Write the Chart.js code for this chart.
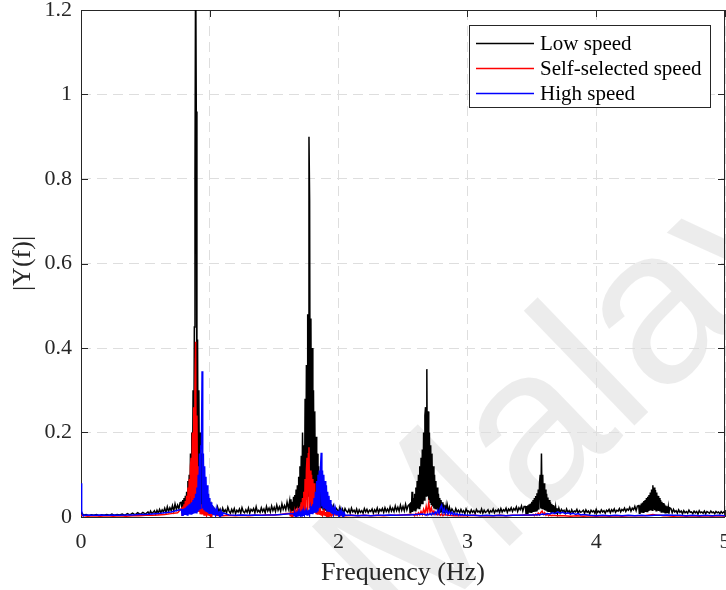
<!DOCTYPE html>
<html><head><meta charset="utf-8">
<script src="https://cdn.jsdelivr.net/npm/chart.js@4.4.1/dist/chart.umd.min.js"></script>
<style>html,body{margin:0;padding:0;background:#fff;}canvas{display:block;}</style>
</head><body>
<canvas id="c" width="726" height="590"></canvas>
<script>
// ---------- DATA ----------
const seriesLabels = ['Low speed', 'Self-selected speed', 'High speed'];
const seriesColors = ['#000000', '#ff0000', '#0000ff'];
const xTickValues = [0, 1, 2, 3, 4, 5];
const xTickLabels = ['0', '1', '2', '3', '4', '5'];
const yTickValues = [0, 0.2, 0.4, 0.6, 0.8, 1, 1.2];
const yTickLabels = ['0', '0.2', '0.4', '0.6', '0.8', '1', '1.2'];
const watermarkText = 'Malaya';

// Low speed |Y(f)| — each array is a run of FFT bins
const low_000_050 = [0.012,0.004,0.006,0.003,0.005,0.004,0.006,0.003,0.005,0.004,
 0.006,0.004,0.007,0.004,0.006,0.005,0.007,0.004,0.008,0.005,0.009,0.005,0.010,0.006,0.011,0.007];
const low_052_077 = [0.012,0.006,0.014,0.008,0.011,0.015,0.007,0.016,0.009,0.018,
 0.010,0.017,0.012,0.021,0.011,0.024,0.013,0.022,0.015,0.027,0.014,0.031,0.018,0.028,0.020,0.034];
const low_078_100 = [0.035,0.010,0.040,0.012,0.045,0.015,0.050,0.012,0.060,0.018,
 0.085,0.020,0.100,0.025,0.150,0.030,0.200,0.040,0.300,0.050,
 0.450,0.810,1.350,0.960,0.040,0.420,0.030,0.300,0.030,0.200,
 0.025,0.150,0.020,0.100,0.020,0.075,0.015,0.060,0.015,0.050,
 0.012,0.040,0.012,0.035,0.010];
const low_101_161 = [0.028,0.011,0.022,0.016,0.009,0.024,0.013,0.019,0.008,0.021,
 0.012,0.017,0.010,0.023,0.014,0.009,0.018,0.011,0.020,0.008,
 0.016,0.012,0.019,0.009,0.022,0.013,0.010,0.017,0.011,0.021,
 0.009,0.018,0.014,0.020,0.010,0.024,0.012,0.016,0.011,0.022,
 0.013,0.019,0.010,0.025,0.014,0.021,0.012,0.026,0.015,0.023,
 0.013,0.028,0.016,0.024,0.014,0.031,0.018,0.027,0.017,0.035,0.020];
const low_162_195 = [0.038,0.012,0.042,0.015,0.036,0.014,0.048,0.016,0.052,0.018,
 0.065,0.020,0.075,0.022,0.095,0.025,0.120,0.030,0.145,0.030,
 0.200,0.035,0.170,0.040,0.280,0.040,0.360,0.050,0.480,0.050,
 0.900,0.750,0.050,0.470,0.040,0.400,0.040,0.300,0.035,0.250,
 0.030,0.190,0.030,0.150,0.025,0.120,0.025,0.100,0.020,0.085,
 0.020,0.070,0.018,0.060,0.015,0.050,0.015,0.045,0.012,0.040,
 0.012,0.035,0.012,0.030,0.010,0.028,0.012];
const low_196_254 = [0.026,0.013,0.021,0.017,0.010,0.023,0.012,0.019,0.009,0.020,
 0.014,0.011,0.018,0.009,0.021,0.012,0.016,0.010,0.019,0.008,
 0.017,0.011,0.015,0.009,0.020,0.012,0.018,0.010,0.016,0.013,
 0.019,0.009,0.017,0.012,0.021,0.010,0.018,0.014,0.020,0.011,
 0.022,0.013,0.019,0.012,0.024,0.014,0.021,0.013,0.026,0.015,
 0.023,0.014,0.028,0.016,0.025,0.015,0.030,0.017,0.027];
const low_255_285 = [0.030,0.010,0.035,0.012,0.060,0.012,0.045,0.015,0.055,0.015,
 0.070,0.018,0.085,0.020,0.100,0.020,0.120,0.025,0.140,0.030,
 0.160,0.030,0.200,0.040,0.240,0.260,0.050,0.350,0.050,0.250,
 0.040,0.200,0.035,0.170,0.030,0.150,0.025,0.120,0.020,0.100,
 0.020,0.085,0.018,0.070,0.015,0.055,0.015,0.045,0.012,0.040,
 0.012,0.035,0.010,0.030,0.010,0.028,0.010,0.025,0.010,0.024,0.010];
const low_286_344 = [0.023,0.011,0.019,0.014,0.009,0.020,0.012,0.016,0.010,0.018,
 0.011,0.015,0.008,0.019,0.012,0.014,0.009,0.017,0.011,0.015,
 0.008,0.018,0.012,0.014,0.010,0.019,0.009,0.016,0.011,0.013,
 0.017,0.009,0.015,0.012,0.019,0.010,0.016,0.013,0.018,0.011,
 0.020,0.012,0.017,0.014,0.021,0.011,0.019,0.015,0.022,0.013,
 0.020,0.016,0.024,0.013,0.022,0.017,0.026,0.014,0.025];
const low_345_370 = [0.025,0.008,0.026,0.009,0.028,0.010,0.030,0.010,0.032,0.011,
 0.036,0.012,0.040,0.012,0.045,0.014,0.050,0.015,0.056,0.016,
 0.065,0.018,0.080,0.100,0.020,0.150,0.020,0.100,0.018,0.080,
 0.016,0.065,0.015,0.055,0.014,0.046,0.012,0.040,0.012,0.035,
 0.011,0.031,0.010,0.028,0.010,0.025,0.009,0.023,0.009,0.021,0.008];
const low_371_432 = [0.021,0.010,0.018,0.013,0.016,0.009,0.019,0.011,0.015,0.008,
 0.017,0.010,0.014,0.012,0.018,0.009,0.015,0.011,0.013,0.016,
 0.009,0.017,0.011,0.014,0.008,0.016,0.012,0.015,0.009,0.018,
 0.011,0.014,0.010,0.017,0.012,0.015,0.009,0.016,0.013,0.018,
 0.010,0.017,0.013,0.019,0.011,0.016,0.014,0.020,0.012,0.018,
 0.015,0.021,0.013,0.019,0.016,0.023,0.014,0.021,0.017,0.025,0.015,0.026];
const low_433_457 = [0.027,0.009,0.028,0.010,0.032,0.010,0.034,0.011,0.038,0.012,
 0.040,0.012,0.045,0.013,0.048,0.014,0.052,0.015,0.058,0.016,
 0.065,0.016,0.075,0.018,0.070,0.016,0.064,0.015,0.058,0.015,
 0.050,0.014,0.045,0.013,0.040,0.012,0.036,0.011,0.033,0.010,
 0.030,0.010,0.027,0.009,0.025,0.009,0.023,0.008,0.022];
const low_458_500 = [0.020,0.010,0.018,0.012,0.015,0.009,0.017,0.011,0.014,0.008,
 0.015,0.010,0.013,0.009,0.016,0.011,0.012,0.008,0.014,0.010,
 0.013,0.007,0.015,0.010,0.012,0.009,0.014,0.008,0.013,0.011,
 0.009,0.014,0.010,0.012,0.008,0.013,0.010,0.012,0.008,0.013,0.009,0.012,0.010];

// Self-selected speed |Y(f)|
const self_000_075 = [0.004,0.002,0.003,0.002,0.003,0.002,0.003,0.002,0.003,0.003,0.004,0.004,0.005,0.006,0.008,0.010];
const self_078_102 = [0.020,0.004,0.025,0.005,0.030,0.006,0.038,0.006,0.050,0.008,
 0.070,0.010,0.090,0.012,0.120,0.140,0.015,0.200,0.018,0.260,
 0.020,0.300,0.415,0.020,0.240,0.018,0.120,0.012,0.050,0.008,
 0.030,0.006,0.030,0.006,0.028,0.005,0.022,0.005,0.018,0.004,
 0.014,0.004,0.012,0.004,0.010,0.003,0.009,0.003,0.008];
const self_105_160 = [0.004,0.003,0.004,0.003,0.004,0.003,0.004,0.004,0.005,0.005,0.006,0.008];
const self_162_195 = [0.008,0.003,0.008,0.003,0.009,0.003,0.010,0.004,0.011,0.004,
 0.013,0.004,0.015,0.005,0.020,0.005,0.025,0.006,0.035,0.007,
 0.045,0.008,0.060,0.010,0.090,0.012,0.110,0.140,0.015,0.150,
 0.165,0.020,0.110,0.015,0.100,0.012,0.090,0.010,0.080,0.010,
 0.050,0.008,0.035,0.007,0.025,0.006,0.020,0.005,0.015,0.005,
 0.014,0.005,0.013,0.004,0.012,0.004,0.012,0.004,0.011,0.004,
 0.010,0.003,0.008,0.003,0.007,0.003,0.006];
const self_200_255 = [0.004,0.003,0.004,0.003,0.004,0.003,0.004,0.003,0.004,0.004,0.005,0.006];
const self_258_282 = [0.006,0.003,0.008,0.004,0.010,0.005,0.013,0.006,0.018,0.008,
 0.025,0.010,0.033,0.012,0.022,0.008,0.014,0.006,0.010,0.005,0.008,0.004,0.007,0.003,0.006];
const self_285_345 = [0.004,0.003,0.003,0.003,0.004,0.003,0.003,0.003,0.004,0.003,0.004,0.004,0.005];
const self_350_366 = [0.004,0.006,0.003,0.007,0.004,0.009,0.005,0.011,0.014,0.006,0.010,0.004,0.007,0.003,0.005,0.003,0.004];
const self_370_435 = [0.003,0.003,0.002,0.003,0.002,0.003,0.002,0.003,0.002,0.003,0.002,0.003,0.003,0.003];
const self_438_452 = [0.003,0.004,0.005,0.006,0.005,0.004,0.004,0.003];
const self_455_500 = [0.003,0.002,0.003,0.002,0.003,0.002,0.003,0.002,0.003,0.002];

// High speed |Y(f)|
const high_000_0015 = [0.080,0.015,0.006,0.004];
const high_005_075 = [0.005,0.004,0.005,0.004,0.005,0.004,0.005,0.005,0.006,0.006,0.007,0.008,0.010,0.012,0.016];
const high_078_110 = [0.018,0.004,0.019,0.004,0.020,0.005,0.022,0.005,0.025,0.005,
 0.027,0.006,0.030,0.006,0.032,0.007,0.035,0.007,0.040,0.008,
 0.045,0.009,0.055,0.010,0.070,0.012,0.100,0.015,0.150,0.020,
 0.170,0.160,0.345,0.020,0.150,0.018,0.120,0.015,0.095,0.012,
 0.075,0.010,0.055,0.009,0.045,0.008,0.035,0.007,0.028,0.006,
 0.024,0.006,0.020,0.005,0.018,0.005,0.015,0.005,0.013,0.004,
 0.012,0.004,0.011,0.004,0.010];
const high_115_160 = [0.005,0.004,0.005,0.004,0.005,0.004,0.005,0.005,0.006,0.007];
const high_165_205 = [0.008,0.003,0.008,0.003,0.009,0.003,0.009,0.003,0.010,0.004,
 0.010,0.004,0.011,0.004,0.012,0.004,0.012,0.005,0.013,0.005,
 0.014,0.005,0.016,0.006,0.018,0.006,0.021,0.007,0.025,0.008,
 0.030,0.009,0.045,0.010,0.060,0.012,0.085,0.015,0.100,0.020,
 0.110,0.022,0.120,0.152,0.025,0.110,0.022,0.100,0.020,0.085,
 0.018,0.075,0.015,0.060,0.014,0.050,0.012,0.040,0.010,0.030,
 0.009,0.024,0.008,0.020,0.007,0.018,0.006,0.016,0.006,0.014,
 0.005,0.013,0.005,0.012,0.005,0.011,0.004,0.010,0.004,0.009,0.004];
const high_210_265 = [0.004,0.003,0.004,0.003,0.004,0.004,0.005,0.004,0.005,0.005,0.006,0.007];
const high_267_299 = [0.006,0.004,0.007,0.005,0.008,0.005,0.010,0.006,0.012,0.007,
 0.016,0.008,0.022,0.028,0.010,0.020,0.008,0.016,0.007,0.013,
 0.006,0.011,0.005,0.009,0.005,0.008,0.004,0.007,0.004,0.006,0.004,0.005,0.004];
const high_305_350 = [0.004,0.003,0.004,0.003,0.004,0.003,0.004,0.004,0.005,0.005];
const high_352_390 = [0.005,0.006,0.005,0.007,0.006,0.008,0.007,0.010,0.008,0.012,
 0.009,0.011,0.008,0.010,0.007,0.009,0.006,0.008,0.005,0.006];
const high_395_500 = [0.004,0.003,0.004,0.003,0.004,0.003,0.004,0.003,0.004,0.003,
 0.004,0.004,0.005,0.004,0.004,0.003,0.004,0.003,0.004,0.003,0.004,0.003];

// runs: [first bin Hz, bin step Hz, values]
const lowRuns = [[0,0.02,low_000_050],[0.52,0.01,low_052_077],[0.78,0.005,low_078_100],
 [1.01,0.01,low_101_161],[1.62,0.005,low_162_195],[1.96,0.01,low_196_254],
 [2.55,0.005,low_255_285],[2.86,0.01,low_286_344],[3.45,0.005,low_345_370],
 [3.71,0.01,low_371_432],[4.33,0.005,low_433_457],[4.58,0.01,low_458_500]];
const selfRuns = [[0,0.05,self_000_075],[0.78,0.005,self_078_102],[1.05,0.05,self_105_160],
 [1.62,0.005,self_162_195],[2.0,0.05,self_200_255],[2.58,0.01,self_258_282],
 [2.85,0.05,self_285_345],[3.5,0.01,self_350_366],[3.7,0.05,self_370_435],
 [4.38,0.02,self_438_452],[4.55,0.05,self_455_500]];
const highRuns = [[0,0.005,high_000_0015],[0.05,0.05,high_005_075],[0.78,0.005,high_078_110],
 [1.15,0.05,high_115_160],[1.65,0.005,high_165_205],[2.1,0.05,high_210_265],
 [2.67,0.01,high_267_299],[3.05,0.05,high_305_350],[3.52,0.02,high_352_390],
 [3.95,0.05,high_395_500]];

function toPoints(runs) {
  const pts = [];
  runs.forEach(([start, step, vals]) => vals.forEach((v, i) => pts.push({x: +(start + i * step).toFixed(4), y: v})));
  return pts;
}

const SERIF = "'Liberation Serif', 'Times New Roman', serif";
const AX = '#262626';

function noScalePadding(s) {
  s.paddingLeft = 0; s.paddingRight = 0; s.paddingTop = 0; s.paddingBottom = 0;
}

const framePlugin = {
  id: 'frame',
  beforeDraw(chart) {
    const ctx = chart.ctx;
    ctx.save();
    ctx.fillStyle = '#fff';
    ctx.fillRect(0, 0, chart.width, chart.height);
    ctx.translate(404, 648);
    ctx.rotate(-44 * Math.PI / 180);
    ctx.font = "220px 'Liberation Sans', Arial, sans-serif";
    ctx.fillStyle = 'rgba(0,0,0,0.075)';
    ctx.fillText(watermarkText, 0, 0);
    ctx.restore();
  },
  beforeDatasetsDraw(chart) {
    const {ctx, chartArea: a, scales: {x, y}} = chart;
    ctx.save();
    ctx.strokeStyle = AX;
    ctx.lineWidth = 1;
    ctx.beginPath();
    ctx.rect(a.left + 0.5, a.top + 0.5, a.right - a.left - 1, a.bottom - a.top);
    yTickValues.forEach(v => {
      const py = Math.round(y.getPixelForValue(v)) + 0.5;
      ctx.moveTo(a.left, py); ctx.lineTo(a.left + 7, py);
      ctx.moveTo(a.right, py); ctx.lineTo(a.right - 7, py);
    });
    xTickValues.forEach(v => {
      const px = Math.round(x.getPixelForValue(v)) + 0.5;
      ctx.moveTo(px, a.bottom); ctx.lineTo(px, a.bottom - 7);
      ctx.moveTo(px, a.top); ctx.lineTo(px, a.top + 7);
    });
    ctx.stroke();
    ctx.restore();
  },
  afterDraw(chart) {
    const ctx = chart.ctx;
    ctx.save();
    const bx = 469.5, by = 25.5, bw = 241, bh = 82;
    ctx.fillStyle = '#fff';
    ctx.fillRect(bx, by, bw, bh);
    ctx.strokeStyle = AX;
    ctx.lineWidth = 1;
    ctx.strokeRect(bx, by, bw, bh);
    ctx.font = '21px ' + SERIF;
    ctx.textBaseline = 'middle';
    ctx.textAlign = 'left';
    seriesLabels.forEach((label, i) => {
      const yy = 43.5 + i * 25;
      ctx.strokeStyle = seriesColors[i];
      ctx.lineWidth = 1.5;
      ctx.beginPath(); ctx.moveTo(476, yy); ctx.lineTo(534, yy); ctx.stroke();
      ctx.fillStyle = '#000';
      ctx.fillText(label, 540, yy + 1);
    });
    ctx.restore();
  }
};

new Chart(document.getElementById('c'), {
  type: 'line',
  data: {
    datasets: [
      {label: seriesLabels[0], data: toPoints(lowRuns), borderColor: seriesColors[0], order: 3},
      {label: seriesLabels[1], data: toPoints(selfRuns), borderColor: seriesColors[1], order: 2},
      {label: seriesLabels[2], data: toPoints(highRuns), borderColor: seriesColors[2], order: 1}
    ]
  },
  options: {
    responsive: false,
    animation: false,
    devicePixelRatio: 1,
    parsing: false,
    normalized: true,
    events: [],
    layout: {autoPadding: false, padding: {top: 10, right: 1, left: 0, bottom: 0}},
    elements: {line: {borderWidth: 1.5, tension: 0, fill: false}, point: {radius: 0}},
    plugins: {legend: {display: false}, tooltip: {enabled: false}, title: {display: false}},
    scales: {
      x: {
        type: 'linear', min: 0, max: 5,
        afterFit: s => { s.height = 73; noScalePadding(s); },
        afterBuildTicks: s => { s.ticks = xTickValues.map(v => ({value: v})); },
        ticks: {callback: (v, i) => xTickLabels[i], color: AX, font: {family: SERIF, size: 22}, padding: 12, maxRotation: 0, autoSkip: false},
        grid: {color: '#dedede', lineWidth: 1, drawTicks: false},
        border: {display: false, dash: [10, 6]},
        title: {display: true, text: 'Frequency (Hz)', color: AX, font: {family: SERIF, size: 26, lineHeight: 1}, padding: {top: 0, bottom: 4}}
      },
      y: {
        type: 'linear', min: 0, max: 1.2,
        afterFit: s => { s.width = 81; noScalePadding(s); },
        afterBuildTicks: s => { s.ticks = yTickValues.map(v => ({value: v})); },
        ticks: {callback: (v, i) => yTickLabels[i], color: AX, font: {family: SERIF, size: 22}, padding: 9, autoSkip: false},
        grid: {color: '#dedede', lineWidth: 1, drawTicks: false},
        border: {display: false, dash: [10, 6]},
        title: {display: true, text: '|Y(f)|', color: AX, font: {family: SERIF, size: 26, lineHeight: 1}, padding: {top: 10, bottom: 0}}
      }
    }
  },
  plugins: [framePlugin]
});
</script>
</body></html>
